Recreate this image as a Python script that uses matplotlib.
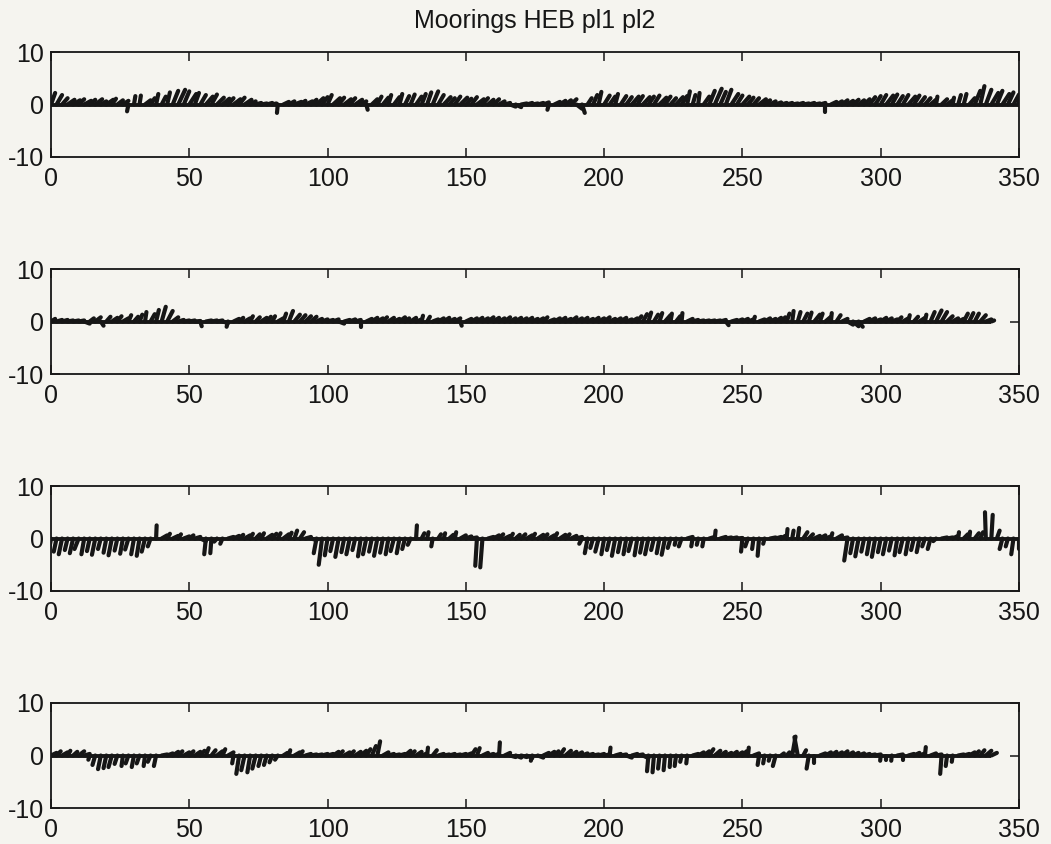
import numpy as np
import matplotlib
matplotlib.use("Agg")
import matplotlib.pyplot as plt
from matplotlib.collections import LineCollection

plt.rcParams["font.family"] = ["Liberation Sans", "DejaVu Sans"]
plt.rcParams["axes.unicode_minus"] = False

title = "Moorings HEB pl1 pl2"
dt = 2.0  # sampling interval (days)

# ---- mooring 1 : north (v) and east (u) components, every 2 days ----
v1 = [2.2, 1.8, 1.2, 0.9, 0.8, 1.0, 0.7, 0.9, 1.0, 0.6,
      0.9, 1.1, 0.8, 0.7, -1.3, 1.6, 1.7, 0.8, 1.2, 2.0,
      1.5, 2.3, 2.6, 2.8, 2.5, 2.0, 2.2, 1.8, 1.5, 1.9,
      1.3, 1.1, 1.2, 1.0, 1.3, 0.9, 0.6, 0.3, 0.2, 0.3,
      0.2, -1.6, 0.5, 0.6, 0.5, 0.7, 0.6, 0.9, 1.2, 1.4,
      1.8, 1.2, 1.3, 1.0, 1.2, 0.9, 0.6, -1.0, 1.0, 1.5,
      1.3, 1.8, 1.4, 2.0, 1.6, 1.9, 1.5, 2.0, 2.3, 2.5,
      1.8, 1.4, 1.2, 1.5, 1.3, 1.1, 1.4, 1.0, 1.2, 0.9,
      1.0, 0.6, 0.3, -0.4, -0.5, 0.2, 0.3, 0.2, 0.3, 0.4,
      -1.0, 0.5, 0.7, 0.8, 1.0, -0.8, -1.6, 1.2, 1.8, 2.4,
      1.7, 1.5, 2.0, 1.6, 1.4, 1.5, 1.6, 1.4, 1.5, 1.7,
      1.3, 1.5, 1.2, 1.4, 1.6, 2.5, 1.8, 2.2, 1.5, 2.6,
      3.0, 2.4, 2.8, 2.0, 1.7, 1.5, 1.3, 1.2, 1.0, 0.8,
      0.6, 0.4, 0.3, 0.3, 0.2, 0.3, 0.2, 0.3, 0.2, 0.3,
      -1.5, 0.5, 0.6, 0.8, 0.7, 0.9, 0.8, 1.0, 1.4, 1.6,
      1.8, 1.7, 1.9, 1.6, 1.8, 1.5, 1.7, 1.4, 1.2, 0.9,
      1.5, 1.0, 0.8, 1.3, 1.8, 2.0, 1.2, 2.6, 3.5, 2.8,
      2.2, 2.6, 2.0, 2.3, 1.9, 1.5]
u1 = [1.5, 2, 2, 2.5, 2.5, 2, 2.5, 2, 2.5, 2,
      2.5, 1.5, 2, 2, -0.5, 0.5, 0.5, 2, 1.5, 0.8,
      1.5, 1, 2, 2.5, 2, 2.5, 1.5, 2, 2.5, 2,
      2.5, 2.5, 2, 2.5, 2, 2.5, 2, 2, 2, 2,
      1.5, -0.3, 2, 2, 2.5, 2, 2.5, 2, 2.5, 2,
      1.5, 2.5, 2, 2.5, 2, 2.5, 2, 0.5, 2, 1.5,
      2, 1, 2, 1, 1.5, 1.5, 2, 1.5, 1.5, 2,
      2, 2.5, 2, 2, 2.5, 2, 2, 2.5, 2, 2,
      2, 2, 2, 2, 2, 2, 2, 2, 2, 2,
      -0.5, 2, 2, 2, 2, 2, 1, 1.5, 1.5, 1,
      2, 2, 1, 2, 2, 2.5, 2, 2.5, 2, 2,
      2.5, 2, 2, 2.5, 2, 1, 1, 0.5, 2, 2,
      2.5, 2, 2, 2.5, 2, 2.5, 2, 2, 2.5, 2,
      2, 2, 2, 2, 2, 2, 2, 2, 2, 2,
      0, 2, 2, 2, 2, 2, 2, 2, 2, 2,
      2, 2.5, 2, 2, 2, 2.5, 2, 2, 2, 2,
      0.5, 2, 2, 0.5, 1, 1, 2, 2, 1.5, 2,
      2.5, 2, 2.5, 2, 2, 0]

# ---- mooring 2 ----
v2 = [0.5, 0.3, 0.3, 0.2, 0.2, 0.2, -0.4, 0.6, 0.8, -0.8,
      0.9, 0.7, 1.0, 0.6, 1.2, 0.9, 1.3, 1.8, 1.4, 2.2,
      2.8, 2.0, 0.8, 0.3, 0.2, 0.2, 0.1, -0.9, 0.2, 0.2,
      0.2, -0.3, -1.0, 0.5, 0.7, 0.6, 1.0, 0.8, 0.7, 0.9,
      1.0, 0.6, 1.5, 2.0, 1.3, 1.2, 1.0, 0.9, 0.5, 0.4,
      0.3, 0.4, -0.4, 0.3, 0.4, 0.3, -1.0, 0.5, 0.7, 0.6,
      0.8, 0.7, 0.5, 0.8, 0.6, 0.7, 0.4, 1.1, 0.9, 0.4,
      0.6, 0.7, 0.5, 0.6, -0.8, 0.5, 0.6, 0.7, 0.6, 0.8,
      0.7, 0.6, 0.8, 0.6, 0.7, 0.6, 0.7, 0.5, 0.6, 0.8,
      0.4, 0.6, 0.7, 0.5, 0.8, 0.6, 0.7, 0.5, 0.7, 0.6,
      0.8, 0.5, 0.6, 0.7, 0.4, 0.6, 1.0, 1.4, 1.7, 1.3,
      1.6, 1.2, 1.5, 1.0, 1.6, 0.5, 0.3, 0.2, 0.2, 0.2,
      0.2, 0.3, -0.7, 0.3, 0.4, 0.5, 0.4, 0.9, 0.4, 0.6,
      0.5, 0.7, 0.8, 1.5, 2.0, 1.8, 1.5, 1.7, 1.3, 1.5,
      0.9, 1.6, 1.2, 0.5, -0.6, -0.9, -1.0, 0.5, 0.6, 0.4,
      0.7, 0.6, 0.4, 0.8, 0.6, 1.2, 0.9, 0.7, 1.3, 1.8,
      2.1, 1.8, 1.0, 0.6, 0.5, 1.5, 1.6, 1.5, 1.2, 0.4,
      0.2]
u2 = [1.5, 2, 2, 2, 2, 2, 2, 1.5, 2, 1,
      1.5, 2, 1.5, 2, 1, 1.5, 1, 0.5, 1.5, 1,
      1.5, 2, 2, 2, 2, 2, 2, 0.5, 2, 2,
      2, 2, -0.5, 2, 1.5, 2, 1, 1.5, 2, 1.5,
      1, 2, 1, 1.5, 2, 2, 2, 2, 2, 2,
      2, 2, 2, 2, 2, 2, 0, 2, 2, 2,
      1.5, 2, 2, 2, 1.5, 2, 2, 0.5, 1, 2,
      2, 2, 2, 2, 0.5, 2, 2, 2, 2, 2,
      2, 2, 2, 2, 2, 2, 2, 2, 2, 1.5,
      2, 2, 2, 2, 2, 2, 2, 2, 2, 2,
      2, 2, 2, 2, 2, 2, 1.5, 1.5, 1, 1.5,
      1, 2, 0.5, 1.5, 0.3, 2, 2, 2, 2, 2,
      2, 2, 1, 2, 2, 2, 2, 0.5, 2, 2,
      2, 2, 1.5, 1, 0.5, 1, 1.5, 1, 2, 1,
      2, 0.3, 1.5, 2, 2, 2, 1.5, 2, 2, 2,
      2, 2, 2, 1.5, 2, 0.5, 1.5, 2, 0.5, 1.5,
      2, 2, 2, 2, 2, 1.5, 1.5, 1.5, 2, 2,
      1]

# ---- mooring 3 ----
v3 = [-3.2, -2.5, -3.0, -2.2, -2.8, -2.0, -3.0, -2.4, -3.1, -2.0,
      -2.7, -3.2, -2.3, -2.9, -2.1, -3.0, -3.3, -2.5, -1.5, 2.5,
      0.6, 0.9, 0.5, 0.8, 0.4, 0.6, 0.3, -0.5, -3.0, -2.8,
      -0.6, -1.0, 0.3, 0.5, 0.7, 0.6, 0.9, 0.8, 1.0, 0.7,
      0.9, 1.0, 0.8, 1.1, 1.5, 1.2, 0.3, -0.3, -2.8, -5.0,
      -3.2, -2.4, -3.5, -2.6, -3.0, -2.2, -3.4, -3.0, -2.5, -3.3,
      -2.7, -3.0, -2.4, -2.8, -2.0, -1.2, 2.5, 1.0, 1.2, -1.5,
      0.8, 1.0, 0.7, 1.2, 0.6, 0.4, 0.2, -5.2, -5.5, 0.3,
      0.6, 0.8, 0.5, 0.9, 0.7, 0.8, 0.6, 0.9, 0.7, 0.8,
      0.6, 1.0, 0.7, 0.8, 0.5, 0.3, -1.0, -2.8, -1.8, -2.5,
      -3.0, -2.2, -3.3, -2.6, -3.0, -2.4, -3.2, -2.7, -3.0, -2.2,
      -2.8, -3.1, -1.8, -1.2, -1.5, 0.3, -1.5, -1.2, -1.5, 0.3,
      1.5, 0.3, 0.2, 0.2, 0.1, -2.5, -1.5, -2.0, -3.3, -1.0,
      0.2, 0.3, 0.5, 1.8, 1.5, 2.0, 1.2, 0.8, 0.5, 0.6,
      0.4, 1.0, 0.6, 0.2, -4.2, -2.8, -3.4, -2.5, -3.0, -3.5,
      -2.6, -3.0, -2.3, -3.2, -2.6, -3.0, -2.2, -2.6, -1.5, -2.0,
      -0.5, 0.2, 0.2, 0.5, 1.2, 0.8, 1.3, 1.0, 1.2, 5.0,
      4.5, 1.5, -2.0, -1.5, -3.0, -2.0]
u3 = [-1, -1, -1.2, -1, -1.2, -1.5, -1, -1, -1.2, -1,
      -1, -1.2, -1, -1, -1.2, -1, -1, -1.2, -1, 0.2,
      2, 1, 2, 1, 2, 1.5, 2, 2, -0.6, -0.4,
      -1, -0.8, 2, 2, 1.5, 2, 1, 1.5, 1, 2,
      1.5, 1, 2, 1, 1, 1.5, 2, 2, -1, -1.2,
      -1, -1, -1.2, -1, -1.2, -1, -1, -1.2, -1, -1.2,
      -1, -1, -1.2, -1, -1, -1, 0.3, 1, 0.5, -0.5,
      1, 0.5, 1.5, 0.5, 2, 2, 2, -0.6, -0.8, 2,
      2, 1.5, 2, 1, 1.5, 1.5, 2, 1, 2, 1.5,
      2, 1, 2, 1.5, 2, 2, -1, -1, -1, -1.2,
      -1, -1, -1.2, -1, -1, -1.2, -1, -1, -1.2, -1,
      -1, -1.2, -1, -0.5, -1, 2, -0.5, -0.5, -0.5, 2,
      0.3, 2, 2, 2, 2, -0.5, -1, -0.5, -0.5, -0.5,
      2, 2, 1.5, 0.3, 0.5, 0.5, 1.5, 1.5, 2, 2,
      2, 0.5, 2, 2, -1.2, -1, -1.2, -1, -1, -1.2,
      -1, -1.2, -1, -1, -1.2, -1, -1, -1, -1, -1,
      -1, 2, 2, 2, 0.3, 1.5, 0.3, 1.5, 1, -0.3,
      0.5, 1, -1, -0.8, -0.8, 0]

# ---- mooring 4 ----
v4 = [0.5, 0.8, 0.6, 0.9, 0.7, 0.8, 0.3, -0.8, -1.8, -2.6,
      -2.4, -2.2, -1.6, -2.0, -1.5, -2.2, -1.5, -2.0, -1.2, -2.0,
      0.2, 0.4, 0.7, 0.8, 0.6, 0.8, 0.7, 0.9, 1.4, 1.0,
      0.8, 1.2, 0.6, -1.5, -3.5, -2.8, -3.2, -2.5, -2.0, -1.8,
      -1.3, -0.8, 0.5, 1.0, 0.6, 0.8, 0.3, 0.2, 0.2, 0.3,
      0.3, 0.7, 0.8, 0.6, 0.8, 0.7, 0.9, 1.2, 1.8, 2.7,
      0.6, 0.3, 0.2, 0.3, 0.9, 0.8, 0.7, 0.4, 1.5, 1.0,
      0.3, 0.2, 0.3, 0.2, 0.3, 0.4, 1.2, 1.4, 0.5, 0.3,
      0.3, 2.5, 0.5, -0.3, -0.4, -0.3, -0.5, -1.0, -0.4, 0.5,
      0.7, 0.8, 1.2, 0.9, 0.7, 0.6, 0.4, 0.3, 0.2, 0.3,
      0.2, 1.5, 0.3, 0.2, -0.4, 0.3, 0.2, -0.5, -3.0, -3.2,
      -2.5, -2.8, -2.2, -2.0, -1.2, -1.5, 0.3, 0.6, 0.8, 1.2,
      0.9, 0.7, 0.5, 0.7, 0.6, 0.8, 1.5, 0.4, -1.8, -1.5,
      -1.0, -2.0, 0.4, 0.6, 3.6, 3.5, 1.0, -2.5, -1.5, 0.4,
      0.6, 0.7, 0.6, 0.8, 0.6, 0.5, 0.4, 0.3, 0.2, 0.2,
      -1.0, -0.8, -1.0, 0.2, -0.8, 0.3, 0.5, 0.4, 1.6, 0.4,
      0.2, -3.5, -2.0, -1.2, 0.2, 0.3, 0.6, 0.8, 1.0, 0.9,
      0.5]
u4 = [2, 1.5, 2, 1, 1.5, 2, 2, -0.5, -1, -1,
      -1, -1.2, -1, -0.5, -1, -0.8, -1, -0.5, -1, -0.8,
      2, 2, 2, 1.5, 2, 1.5, 2, 1.5, 1, 1.5,
      2, 1, 2, -0.5, -1, -1.2, -1, -1.2, -1, -1,
      -1, -1, 1.5, 0.5, 2, 1, 2, 2, 2, 2,
      2, 2, 1.5, 2, 1.5, 2, 2, 1.5, 1.5, 1,
      2, 2, 2, 2, 2, 1.5, 2, 2, 0.3, 1.5,
      2, 2, 2, 2, 2, 2, 1.5, 1, 2, 2,
      2, 0.3, 2, 2, 2, 2, 2, -0.5, 2, 2,
      2, 1.5, 1.5, 2, 2, 2, 2, 2, 2, 2,
      2, 0.3, 2, 2, 2, 2, 2, 2, -0.5, -0.5,
      -0.5, -0.5, -0.3, -0.5, -0.5, -0.3, 2, 2, 2, 1.5,
      2, 2, 2, 2, 2, 1.5, 0.3, 2, -0.5, -0.5,
      -0.5, -1, 1, 1, 1.2, -1.2, 1, -0.8, 0, 2,
      2, 2, 2, 2, 2, 2, 2, 2, 2, 2,
      -0.2, 0, -0.2, 2, 0, 2, 2, 2, 0.3, 2,
      2, -0.5, -0.5, -0.3, 2, 2, 2, 1.5, 1.5, 2,
      2]

series = [(u1, v1), (u2, v2), (u3, v3), (u4, v4)]

xlim = (0, 350)
ylim = (-10, 10)
xticks = [0, 50, 100, 150, 200, 250, 300, 350]
yticks = [-10, 0, 10]

W, H = 1051, 844
fig = plt.figure(figsize=(W / 100, H / 100), dpi=100)
bg = "#f5f4ef"
ink = "#161616"
fig.patch.set_facecolor(bg)

left, width = 51 / W, 968 / W
height = 105 / H
tops = [52, 269, 486, 703]

for k, (u, v) in enumerate(series):
    u = np.asarray(u, float)
    v = np.asarray(v, float)
    t = np.arange(len(v)) * dt
    ax = fig.add_axes([left, 1 - (tops[k] + 105) / H, width, height])
    ax.set_facecolor(bg)
    # zero line plus one stick per sample: (t, 0) -> (t + u, v)
    ax.plot([t[0], t[-1]], [0, 0], color=ink, lw=2.8, solid_capstyle="butt")
    segs = np.stack([np.column_stack([t, np.zeros_like(t)]),
                     np.column_stack([t + u, v])], axis=1)
    ax.add_collection(LineCollection(segs, colors=ink, linewidths=3.0,
                                     capstyle="round"))
    ax.set_xlim(*xlim)
    ax.set_ylim(*ylim)
    ax.set_xticks(xticks)
    ax.set_yticks(yticks)
    ax.tick_params(direction="in", length=6.5, width=1.1, colors=ink,
                   labelsize=18, top=True, right=True)
    ax.tick_params(axis="x", pad=7.5)
    ax.tick_params(axis="y", pad=5)
    for s in ax.spines.values():
        s.set_linewidth(1.3)
        s.set_color(ink)
    if k == 0:
        ax.set_title(title, fontsize=18, color=ink, pad=17)

fig.savefig("out.png", dpi=100, facecolor=bg)
